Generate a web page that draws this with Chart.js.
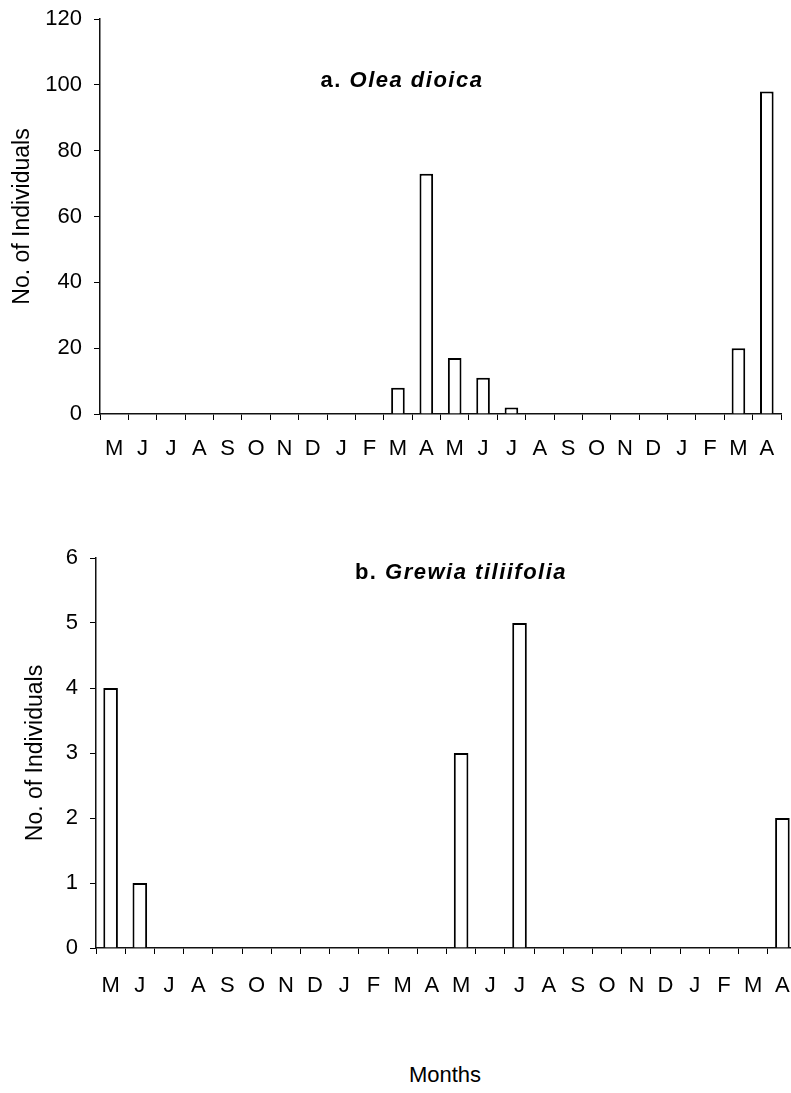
<!DOCTYPE html>
<html>
<head>
<meta charset="utf-8">
<script src="https://cdn.jsdelivr.net/npm/chart.js@4.4.1/dist/chart.umd.min.js"></script>
<style>
  html, body { margin: 0; padding: 0; background: #fff; overflow: hidden; }
  body { width: 791px; height: 1093px; position: relative; }
  canvas { position: absolute; left: 0; }
  .lbl { position: absolute; font-family: Arial, "Liberation Sans", sans-serif; color: #000; white-space: nowrap; transform: translate(-50%, -50%); }
  .ttl { font-size: 22px; font-weight: bold; letter-spacing: 1.5px; }
  .ttl i { font-style: italic; }
</style>
</head>
<body>
<canvas id="chartA" width="801" height="480" style="top:-10px"></canvas>
<canvas id="chartB" width="820" height="480" style="top:530px"></canvas>
<div class="lbl ttl" style="left:402px; top:80px">a. <i>Olea dioica</i></div>
<div class="lbl ttl" style="left:461px; top:572px">b. <i>Grewia tiliifolia</i></div>
<div class="lbl" style="left:445px; top:1075px; font-size:22px">Months</div>
<script>
// months from May through April two years later
const months = ['M','J','J','A','S','O','N','D','J','F','M','A','M','J','J','A','S','O','N','D','J','F','M','A'];
const oleaCounts = [0,0,0,0,0,0,0,0,0,0,8,73,17,11,2,0,0,0,0,0,0,0,20,98];
const grewiaCounts = [4,1,0,0,0,0,0,0,0,0,0,0,3,0,5,0,0,0,0,0,0,0,0,2];
const oleaTicks = [0,20,40,60,80,100,120];
const grewiaTicks = [0,1,2,3,4,5,6];

const fontFam = 'Arial, "Liberation Sans", sans-serif';

function makeChart(id, counts, yTicks, opts) {
  const ctx = document.getElementById(id).getContext('2d');
  return new Chart(ctx, {
    type: 'bar',
    data: {
      labels: months,
      datasets: [{
        data: counts,
        backgroundColor: '#fff',
        borderColor: '#000',
        borderWidth: 2,
        categoryPercentage: 1,
        barPercentage: opts.barPct
      }]
    },
    options: {
      responsive: false,
      animation: false,
      devicePixelRatio: 1,
      layout: { padding: { top: opts.padTop, right: opts.padRight, left: 0, bottom: 0 } },
      plugins: { legend: { display: false }, tooltip: { enabled: false } },
      scales: {
        x: {
          offset: true,
          grid: { offset: true, drawOnChartArea: false, drawTicks: true, tickLength: 6, color: '#000', lineWidth: 1 },
          border: { display: true, color: '#111', width: 1.5 },
          ticks: { color: '#000', font: { family: fontFam, size: 22 }, padding: opts.xPad, autoSkip: false, maxRotation: 0 },
          afterFit: function (s) { s.height = opts.xHeight; }
        },
        y: {
          min: yTicks[0],
          max: yTicks[yTicks.length - 1],
          afterBuildTicks: function (s) { s.ticks = yTicks.map(function (v) { return { value: v }; }); },
          grid: { drawOnChartArea: false, drawTicks: true, tickLength: 6, color: '#000', lineWidth: 1 },
          border: { display: true, color: '#111', width: 1.5 },
          ticks: { color: '#000', font: { family: fontFam, size: 22 }, padding: 12 },
          title: {
            display: true,
            text: 'No. of Individuals',
            color: '#000',
            font: { family: fontFam, size: 23 },
            padding: { top: opts.titlePad, bottom: 0 }
          },
          afterFit: function (s) { s.width = opts.yWidth; }
        }
      }
    }
  });
}

makeChart('chartA', oleaCounts, oleaTicks, {
  barPct: 0.48, padTop: 29, padRight: 20, xHeight: 56, yWidth: 100, titlePad: 9, xPad: 16
});
makeChart('chartB', grewiaCounts, grewiaTicks, {
  barPct: 0.5, padTop: 28, padRight: 23, xHeight: 62, yWidth: 96, titlePad: 22, xPad: 19
});
</script>
</body>
</html>
